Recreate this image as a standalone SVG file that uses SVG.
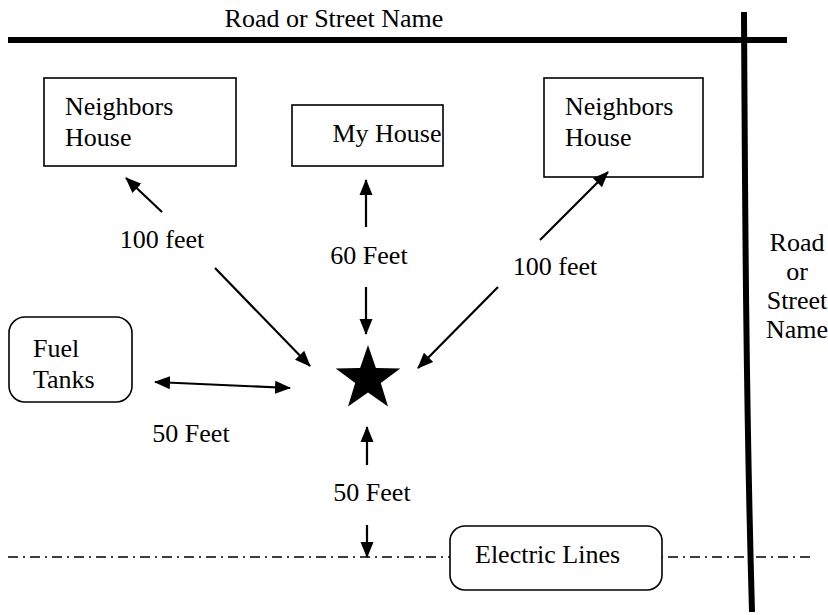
<svg xmlns="http://www.w3.org/2000/svg" width="828" height="615" viewBox="0 0 828 615" font-family="'Liberation Serif', 'Times New Roman', 'DejaVu Serif', serif">
<style>
text{font-family:"Liberation Serif","Times New Roman","DejaVu Serif",serif;font-size:26px;fill:#000}
.box{fill:#fff;stroke:#000;stroke-width:1.6}
.road{fill:none;stroke:#000;stroke-width:6}
.arr{fill:none;stroke:#000;stroke-width:2.2}
.mid{text-anchor:middle}
</style>
<defs>
<marker id="ah" markerUnits="userSpaceOnUse" markerWidth="16" markerHeight="14" refX="15" refY="6.5" orient="auto-start-reverse" viewBox="0 0 16 13">
<path d="M0,0 L16,6.5 L0,13 Z" fill="#000"/>
</marker>
</defs>
<rect width="828" height="615" fill="#fff"/>
<g id="roads">
<line class="road" x1="8" y1="40" x2="787" y2="40"/>
<path class="road" stroke-width="5" d="M744,12 C745,200 746,400 752,612"/>
<text x="334" y="27" class="mid">Road or Street Name</text>
<text class="mid"><tspan x="797" y="251">Road</tspan><tspan x="797" y="280">or</tspan><tspan x="797" y="309">Street</tspan><tspan x="797" y="338">Name</tspan></text>
</g>
<g id="electric-line">
<line x1="8" y1="557" x2="812" y2="557" stroke="#000" stroke-width="1.5" stroke-dasharray="10 5 2 5"/>
</g>
<g id="neighbors-left">
<rect class="box" x="44" y="78" width="192" height="88"/>
<text><tspan x="65" y="115">Neighbors</tspan><tspan x="65" y="146">House</tspan></text>
</g>
<g id="my-house">
<rect class="box" x="292" y="105" width="151" height="61"/>
<text x="387" y="142" class="mid">My House</text>
</g>
<g id="neighbors-right">
<rect class="box" x="544" y="78" width="159" height="99"/>
<text><tspan x="565" y="115">Neighbors</tspan><tspan x="565" y="146">House</tspan></text>
</g>
<g id="fuel-tanks">
<rect class="box" x="9" y="317" width="123" height="85" rx="16"/>
<text><tspan x="33" y="357">Fuel</tspan><tspan x="33" y="388">Tanks</tspan></text>
</g>
<g id="electric-lines">
<rect class="box" x="450" y="526" width="212" height="64" rx="15"/>
<text x="475" y="563">Electric Lines</text>
</g>
<g id="star">
<polygon fill="#000" points="368,345 375.9,368.1 400.3,368.5 380.8,383.1 388.0,406.5 368,392.4 348.0,406.5 355.2,383.1 335.7,368.5 360.1,368.1"/>
</g>
<g id="connectors">
<line class="arr" x1="162" y1="212" x2="126" y2="178" marker-end="url(#ah)"/>
<line class="arr" x1="215" y1="268" x2="310" y2="366" marker-end="url(#ah)"/>
<line class="arr" x1="366" y1="227" x2="366" y2="180" marker-end="url(#ah)"/>
<line class="arr" x1="366" y1="287" x2="366" y2="334" marker-end="url(#ah)"/>
<line class="arr" x1="540" y1="240" x2="608" y2="172" marker-end="url(#ah)"/>
<line class="arr" x1="498" y1="287" x2="418" y2="368" marker-end="url(#ah)"/>
<line class="arr" x1="155" y1="382" x2="290" y2="388" marker-start="url(#ah)" marker-end="url(#ah)"/>
<line class="arr" x1="367" y1="465" x2="367" y2="427" marker-end="url(#ah)"/>
<line class="arr" x1="367" y1="525" x2="367" y2="557" marker-end="url(#ah)"/>
<text x="162" y="248" class="mid">100 feet</text>
<text x="369" y="264" class="mid">60 Feet</text>
<text x="555" y="275" class="mid">100 feet</text>
<text x="191" y="442" class="mid">50 Feet</text>
<text x="372" y="501" class="mid">50 Feet</text>
</g>
</svg>
